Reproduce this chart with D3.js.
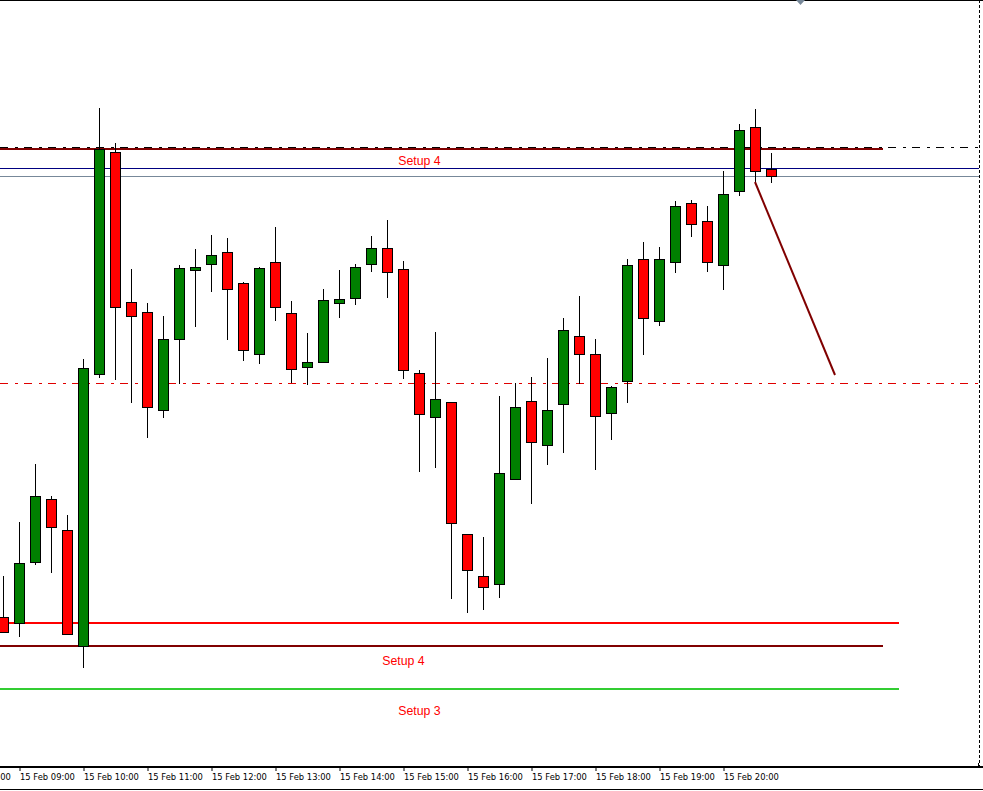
<!DOCTYPE html>
<html>
<head>
<meta charset="utf-8">
<script src="https://cdn.jsdelivr.net/npm/d3@7"></script>
<style>
html,body{margin:0;padding:0;background:#fff;overflow:hidden;}
svg{display:block;}
</style>
</head>
<body>
<svg id="chart" width="983" height="791"></svg>
<script>
// ---------------- DATA ----------------
const candleTimes = ["08:45","09:00","09:15","09:30","09:45","10:00","10:15","10:30","10:45","11:00","11:15","11:30","11:45",
  "12:00","12:15","12:30","12:45","13:00","13:15","13:30","13:45","14:00","14:15","14:30","14:45",
  "15:00","15:15","15:30","15:45","16:00","16:15","16:30","16:45","17:00","17:15","17:30","17:45",
  "18:00","18:15","18:30","18:45","19:00","19:15","19:30","19:45","20:00","20:15","20:30","20:45"];
const openP  = [1.3183,1.3177,1.3238,1.3301,1.3270,1.3154,1.3426,1.3648,1.3498,1.3488,1.3390,1.3461,1.3530,
  1.3536,1.3548,1.3517,1.3446,1.3538,1.3487,1.3433,1.3438,1.3497,1.3502,1.3536,1.3552,
  1.3531,1.3427,1.3383,1.3398,1.3266,1.3224,1.3216,1.3321,1.3399,1.3355,1.3396,1.3464,
  1.3446,1.3387,1.3419,1.3541,1.3479,1.3538,1.3597,1.3579,1.3535,1.3609,1.3673,1.3631];
const highP  = [1.3224,1.3278,1.3336,1.3304,1.3285,1.3441,1.3692,1.3657,1.3531,1.3497,1.3484,1.3535,1.3551,
  1.3565,1.3562,1.3518,1.3533,1.3573,1.3499,1.3467,1.3511,1.3530,1.3536,1.3564,1.3580,
  1.3539,1.3430,1.3468,1.3398,1.3266,1.3263,1.3404,1.3417,1.3423,1.3442,1.3482,1.3504,
  1.3461,1.3414,1.3541,1.3558,1.3553,1.3599,1.3600,1.3594,1.3629,1.3676,1.3691,1.3647];
const lowP   = [1.3168,1.3164,1.3236,1.3228,1.3166,1.3133,1.3423,1.3421,1.3398,1.3363,1.3383,1.3417,1.3474,
  1.3509,1.3461,1.3440,1.3437,1.3480,1.3418,1.3416,1.3438,1.3483,1.3496,1.3529,1.3503,
  1.3422,1.3329,1.3333,1.3202,1.3188,1.3191,1.3203,1.3321,1.3297,1.3336,1.3348,1.3417,
  1.3331,1.3361,1.3398,1.3446,1.3475,1.3528,1.3564,1.3529,1.3511,1.3605,1.3618,1.3618];
const closeP = [1.3168,1.3237,1.3304,1.3273,1.3166,1.3432,1.3651,1.3493,1.3484,1.3393,1.3461,1.3532,1.3533,
  1.3545,1.3511,1.3450,1.3532,1.3493,1.3431,1.3438,1.3500,1.3501,1.3533,1.3552,1.3528,
  1.3430,1.3386,1.3401,1.3277,1.3230,1.3213,1.3327,1.3393,1.3358,1.3390,1.3470,1.3446,
  1.3384,1.3413,1.3535,1.3482,1.3541,1.3594,1.3576,1.3538,1.3606,1.3670,1.3629,1.3624];

const tickTimes = ["08:00","09:00","10:00","11:00","12:00","13:00","14:00","15:00","16:00","17:00","18:00","19:00","20:00"];

// horizontal level lines
const levelNames  = ["resMaroon","resDashDot","blue","slate","midDashDot","supRed","supMaroon","supGreen"];
const levelPrices = [1.3651, 1.3653, 1.3632, 1.3624, 1.3417, 1.3177, 1.3154, 1.3111];
const levelEnds   = ["22:30", null, null, null, null, "22:45", "22:30", "22:45"];

// trend line
const trendTimes  = ["20:30","21:45"];
const trendPrices = [1.3618, 1.3425];

// text labels
const labelTexts  = ["Setup 4","Setup 4","Setup 3"];
const labelTimes  = ["15:15","15:00","15:15"];
const labelPrices = [1.3635, 1.3135, 1.3085];

// ---------------- SETUP ----------------
const W = 983, H = 791;
const plotBottom = 767, plotRight = 979;
const t = s => { const [h,m] = s.split(":").map(Number); return new Date(Date.UTC(2013,1,15,h,m)); };

const x = d3.scaleUtc()
  .domain([t(candleTimes[0]), t(candleTimes[candleTimes.length-1])])
  .range([3, 771]);
const y = d3.scaleLinear().domain([1.3033, 1.3800]).range([plotBottom, 0]);

const svg = d3.select("#chart");
svg.append("rect").attr("width", W).attr("height", H).attr("fill", "#fff");

const candles = candleTimes.map((s,i) => ({t: t(s), o: openP[i], h: highP[i], l: lowP[i], c: closeP[i]}));

// level line styles by name
const levelStyle = {
  resMaroon:  {stroke:"#800000", w:2, dash:null, crisp:false},
  resDashDot: {stroke:"#000000", w:1, dash:"8,7,3,6", crisp:true},
  blue:       {stroke:"#000080", w:1, dash:null, crisp:true},
  slate:      {stroke:"#778899", w:1, dash:null, crisp:true},
  midDashDot: {stroke:"#e00000", w:1, dash:"8,7,3,6", crisp:true},
  supRed:     {stroke:"#ff0000", w:2, dash:null, crisp:false},
  supMaroon:  {stroke:"#800000", w:2, dash:null, crisp:false},
  supGreen:   {stroke:"#32cd32", w:2, dash:null, crisp:false}
};

const gLevels = svg.append("g");
levelNames.forEach((n,i) => {
  const st = levelStyle[n];
  let yy = Math.round(y(levelPrices[i])) + (st.crisp ? 0.5 : 0);
  const x2 = levelEnds[i] ? x(t(levelEnds[i])) : plotRight;
  gLevels.append("line")
    .attr("x1", 0).attr("x2", x2).attr("y1", yy).attr("y2", yy)
    .attr("stroke", st.stroke).attr("stroke-width", st.w)
    .attr("stroke-dasharray", st.dash);
});

// candles
const gC = svg.append("g");
candles.forEach(d => {
  const cx = Math.round(x(d.t));
  gC.append("line")
    .attr("x1", cx+0.5).attr("x2", cx+0.5)
    .attr("y1", Math.round(y(d.h))).attr("y2", Math.round(y(d.l)) + 1)
    .attr("stroke", "#000").attr("stroke-width", 1);
  const top = Math.round(y(Math.max(d.o,d.c)));
  const bot = Math.round(y(Math.min(d.o,d.c)));
  gC.append("rect")
    .attr("x", cx - 4.5).attr("width", 10)
    .attr("y", top + 0.5).attr("height", Math.max(bot - top, 1))
    .attr("fill", d.c >= d.o ? "#008000" : "#ff0000")
    .attr("stroke", "#000").attr("stroke-width", 1);
});

// trend line
svg.append("line")
  .attr("x1", x(t(trendTimes[0]))).attr("y1", y(trendPrices[0]))
  .attr("x2", x(t(trendTimes[1]))).attr("y2", y(trendPrices[1]))
  .attr("stroke", "#800000").attr("stroke-width", 2);

// labels
labelTexts.forEach((s,i) => {
  svg.append("text")
    .attr("x", x(t(labelTimes[i])) + 0.5).attr("y", y(labelPrices[i]))
    .attr("text-anchor", "middle")
    .attr("font-family", "'Liberation Sans', Arial, sans-serif")
    .attr("font-size", 12.3).attr("fill", "#ff0000")
    .text(s);
});

// frame
svg.append("line").attr("x1",0).attr("x2",W).attr("y1",0.5).attr("y2",0.5).attr("stroke","#000");
svg.append("line").attr("x1",plotRight+0.5).attr("x2",plotRight+0.5).attr("y1",0).attr("y2",plotBottom)
  .attr("stroke","#000").attr("stroke-dasharray","3,2");
svg.append("path").attr("d","M796,0 L805,0 L800.5,5 Z").attr("fill","#778899");

// x axis
const axisG = svg.append("g").attr("transform", `translate(0.5,${plotBottom})`);
axisG.call(d3.axisBottom(x)
  .tickValues(tickTimes.map(t))
  .tickSize(4)
  .tickFormat(d3.utcFormat("%d %b %H:%M")));
axisG.select(".domain").remove();
axisG.selectAll(".tick line").attr("stroke","#000");
axisG.selectAll(".tick text")
  .attr("text-anchor","start").attr("x", 0).attr("y", 13).attr("dy", null)
  .attr("font-family","'DejaVu Sans', Tahoma, sans-serif").attr("font-size", 8.4).attr("fill","#000");
svg.append("line").attr("x1",0).attr("x2",W).attr("y1",plotBottom).attr("y2",plotBottom)
  .attr("stroke","#000").attr("stroke-width",2);
svg.append("line").attr("x1",plotRight-0.5).attr("x2",plotRight-0.5).attr("y1",plotBottom-4).attr("y2",plotBottom)
  .attr("stroke","#000");
svg.append("line").attr("x1",0).attr("x2",W).attr("y1",789.5).attr("y2",789.5).attr("stroke","#000");
</script>
</body>
</html>
